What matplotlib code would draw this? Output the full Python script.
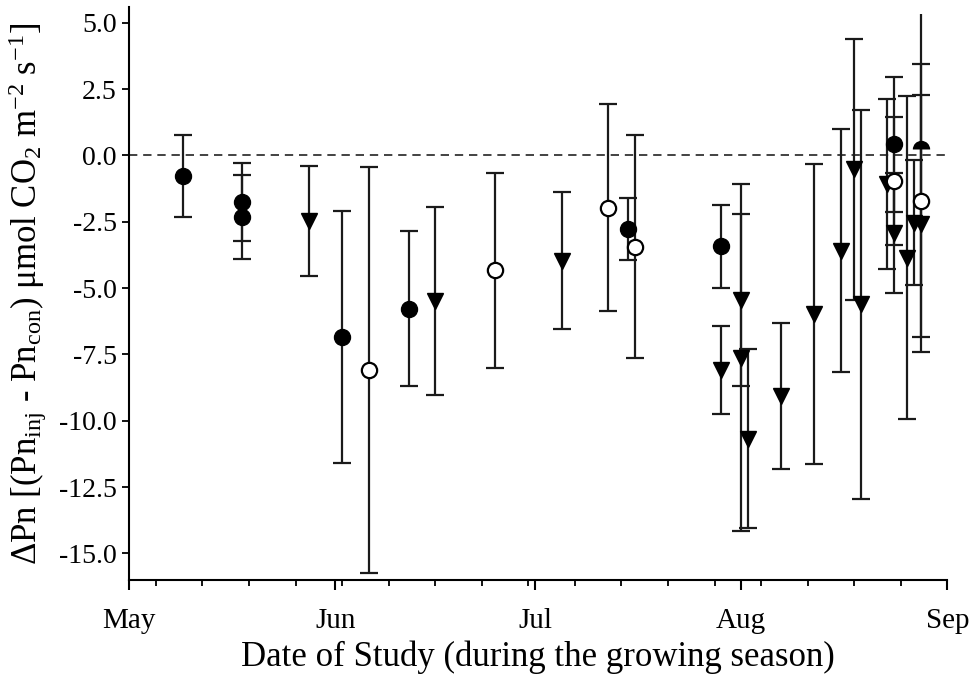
import pandas as pd
import matplotlib
matplotlib.use("Agg")
import matplotlib.pyplot as plt
import matplotlib.dates as mdates

plt.rcParams["font.family"] = ["Liberation Serif", "DejaVu Serif"]
plt.rcParams["mathtext.fontset"] = "custom"
plt.rcParams["mathtext.rm"] = "Liberation Serif"
plt.rcParams["mathtext.it"] = "Liberation Serif:italic"
plt.rcParams["axes.unicode_minus"] = False

# filled circles
filled_dates = ["2002-05-09", "2002-05-18", "2002-05-18", "2002-06-02", "2002-06-12",
                "2002-07-15", "2002-07-29", "2002-08-24"]
filled_vals = [-0.77, -1.75, -2.32, -6.84, -5.77, -2.78, -3.42, 0.42]
filled_errs = [1.55, 1.48, 1.58, 4.76, 2.92, 1.16, 1.56, 2.54]

# filled circle half hidden near the zero line
dome_dates = ["2002-08-28"]
dome_vals = [0.23]
dome_errs = [5.11]

# open circles
open_dates = ["2002-06-06", "2002-06-25", "2002-07-12", "2002-07-16", "2002-08-24", "2002-08-28"]
open_vals = [-8.10, -4.33, -1.98, -3.44, -0.97, -1.70]
open_errs = [7.65, 3.68, 3.90, 4.21, 2.41, 5.14]

# triangles
tri_dates = ["2002-05-28", "2002-06-16", "2002-07-05", "2002-07-29", "2002-08-01", "2002-08-01",
             "2002-08-02", "2002-08-07", "2002-08-12", "2002-08-16", "2002-08-18", "2002-08-19",
             "2002-08-23", "2002-08-24", "2002-08-26", "2002-08-27", "2002-08-28"]
tri_vals = [-2.47, -5.47, -3.96, -8.08, -5.45, -7.62,
            -10.67, -9.07, -5.98, -3.60, -0.53, -5.61,
            -1.08, -2.91, -3.86, -2.53, -2.57]
tri_errs = [2.08, 3.54, 2.59, 1.65, 3.25, 6.54,
            3.37, 2.74, 5.66, 4.58, 4.92, 7.33,
            3.21, 2.26, 6.09, 2.36, 4.83]

x_start = "2002-05-01"
x_end = "2002-09-01"

fig = plt.figure(figsize=(9.71, 6.81), dpi=100)
ax = fig.add_axes([0.1332, 0.1483, 0.8424, 0.8417])

ax.axhline(0, color="#222222", lw=1.2, ls=(0, (5, 3.5)), zorder=1)

bar_style = dict(ecolor="#1a1a1a", elinewidth=1.6, capsize=6.5, capthick=1.6, ls="none", zorder=2)

ax.errorbar(pd.to_datetime(tri_dates), tri_vals, yerr=tri_errs, marker="v", ms=12,
            mfc="black", mec="black", **bar_style)
ax.errorbar(pd.to_datetime(filled_dates), filled_vals, yerr=filled_errs, marker="o", ms=11.5,
            mfc="black", mec="black", **bar_style)
ax.errorbar(pd.to_datetime(dome_dates), dome_vals, yerr=dome_errs, marker="o", ms=12.5,
            mfc="black", mec="black", mew=0, fillstyle="top", mfcalt="none", **bar_style)
ax.errorbar(pd.to_datetime(open_dates), open_vals, yerr=open_errs, marker="o", ms=11,
            mfc="white", mec="black", mew=1.6, **bar_style)

ax.set_xlim(pd.Timestamp(x_start), pd.Timestamp(x_end))
ax.set_ylim(-16, 5.6)
ax.set_yticks([5.0, 2.5, 0.0, -2.5, -5.0, -7.5, -10.0, -12.5, -15.0])
ax.yaxis.set_major_formatter(plt.FormatStrFormatter("%.1f"))

ax.xaxis.set_major_locator(mdates.MonthLocator())
ax.xaxis.set_minor_locator(mdates.WeekdayLocator(byweekday=mdates.SU))
ax.xaxis.set_major_formatter(mdates.DateFormatter("%b"))

ax.spines["top"].set_visible(False)
ax.spines["right"].set_visible(False)
ax.spines["left"].set_linewidth(1.5)
ax.spines["bottom"].set_linewidth(1.5)

ax.tick_params(axis="x", which="major", length=7, width=1.5, labelsize=21, pad=13)
ax.tick_params(axis="x", which="minor", length=4.5, width=1.3)
ax.tick_params(axis="y", which="major", length=5, width=1.3, labelsize=20, pad=4)

ax.set_xlabel("Date of Study (during the growing season)", fontsize=25, labelpad=5)
ax.set_ylabel(r"ΔPn [(Pn$_{\mathrm{inj}}$ - Pn$_{\mathrm{con}}$) μmol CO$_{\mathrm{2}}$ m$^{\mathrm{-2}}$ s$^{\mathrm{-1}}$]",
              fontsize=25, labelpad=7)

fig.savefig("out.png", dpi=100)
